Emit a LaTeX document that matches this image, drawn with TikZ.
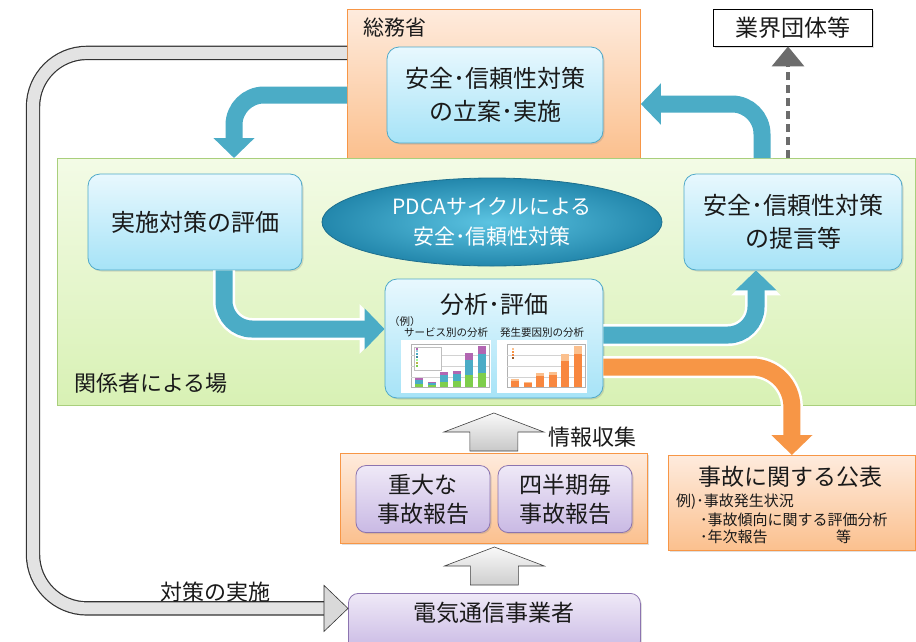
\documentclass[tikz,border=0pt]{standalone}
\usepackage{fontspec}
\setmainfont{Noto Sans CJK JP}
\usetikzlibrary{positioning,arrows.meta,shapes.geometric,shadows}

\definecolor{tealarrow}{HTML}{4BACC6}
\definecolor{orangearrow}{HTML}{F79646}
\definecolor{bluetop}{HTML}{E8F8FE}
\definecolor{bluebot}{HTML}{A6E3F7}
\definecolor{blueline}{HTML}{4FA9C9}
\definecolor{orangetop}{HTML}{FEEBDD}
\definecolor{orangebot}{HTML}{FBC08E}
\definecolor{orangeline}{HTML}{F79646}
\definecolor{purpletop}{HTML}{EFE9F7}
\definecolor{purplebot}{HTML}{C9B9E4}
\definecolor{purpleline}{HTML}{8C74B0}
\definecolor{greentop}{HTML}{F3FBE6}
\definecolor{greenbot}{HTML}{D8F1B4}
\definecolor{greenline}{HTML}{A9CF7C}
\definecolor{pdcain}{HTML}{5CC4E2}
\definecolor{pdcaout}{HTML}{2387AC}
\definecolor{pdcaline}{HTML}{1D6F8E}
\definecolor{txt}{HTML}{1A1A1A}

\tikzset{
	boxshadow/.style={drop shadow={opacity=0.25,shadow xshift=1.5pt,shadow yshift=-1.5pt}},
	bluebox/.style={draw=blueline, line width=0.8pt, rounded corners=12pt, top color=bluetop, bottom color=bluebot,
		align=center, inner sep=0pt, text=txt, font=\fontsize{24}{33}\selectfont, boxshadow},
	purplebox/.style={draw=purpleline, line width=0.8pt, rounded corners=10pt, top color=purpletop, bottom color=purplebot,
		align=center, inner sep=0pt, text=txt, font=\fontsize{23}{29}\selectfont, boxshadow},
	orangepanel/.style={draw=orangeline, line width=0.8pt, top color=orangetop, bottom color=orangebot, inner sep=0pt},
	greenpanel/.style={draw=greenline, line width=0.8pt, top color=greentop, bottom color=greenbot, inner sep=0pt},
	caption/.style={inner sep=0pt, text=txt, font=\fontsize{22}{26}\selectfont},
	listitem/.style={inner sep=0pt, text=txt, font=\fontsize{15}{17}\selectfont},
	smallnote/.style={inner sep=0pt, text=txt, font=\fontsize{10.5}{12}\selectfont},
	tealflow/.style={draw=tealarrow, line width=17pt, rounded corners=30pt, -{Triangle[width=40pt,length=20pt]},
		preaction={draw=white, line width=22pt, -{Triangle[width=48pt,length=25pt]}}},
	orangeflow/.style={tealflow, draw=orangearrow},
	grayblock/.style={draw=black!75, line width=0.6pt, top color=gray!5, bottom color=gray!45},
	grayrim/.style={draw=gray!22, line width=12pt, rounded corners=54pt, preaction={draw=black!80, line width=14.4pt}},
}

\newcommand{\upblock}[2]{
	\draw [grayblock] (#1) ++(-24,-#2) -- ++(0,-19) -- ++(-26,0) -- ++(50,-19) -- ++(50,19) -- ++(-26,0) -- ++(0,19) -- cycle
}

\begin{document}
\begin{tikzpicture}[x=1pt,y=-1pt]
	\useasboundingbox (0,0) rectangle (916,641);

	% panels
	\node [orangepanel, anchor=north west, minimum width=293pt, minimum height=149pt] (somu) at (347,9) {};
	\node [caption, anchor=west, font=\fontsize{21}{24}\selectfont] (somutitle) at (363,28) {総務省};
	\node [greenpanel, anchor=north west, minimum width=858pt, minimum height=247pt] (ba) at (57,158) {};
	\node [caption, anchor=west] (batitle) at (74,383) {関係者による場};
	\node [orangepanel, anchor=north west, minimum width=307pt, minimum height=90pt, boxshadow] (hokoku) at (340,453) {};
	\node [orangepanel, anchor=north west, minimum width=247pt, minimum height=95pt, boxshadow] (kohyo) at (668,455) {};

	% boxes
	\node [bluebox, minimum width=216pt, minimum height=96pt] (plan) at (495,95) {安全･信頼性対策\\の立案･実施};
	\node [bluebox, minimum width=214pt, minimum height=96pt] (hyouka) at (195,222) {実施対策の評価};
	\node [bluebox, minimum width=218pt, minimum height=96pt] (teigen) at (793,222) {安全･信頼性対策\\の提言等};
	\node [ellipse, draw=pdcaline, line width=0.8pt, inner color=pdcain, outer color=pdcaout, minimum width=340pt, minimum height=88pt,
		align=center, inner sep=0pt, text=white, font=\fontsize{21}{30}\selectfont] (pdca) at (492,222) {PDCAサイクルによる\\安全･信頼性対策};
	\node [bluebox, minimum width=218pt, minimum height=119pt] (bunseki) at (494,338.5) {};
	\node [caption, font=\fontsize{24}{26}\selectfont] (bunsekititle) at (494,304) {分析･評価};
	\node [smallnote, anchor=west] (rei) at (389,322) {（例）};
	\node [smallnote] (svc) at (446,333) {サービス別の分析};
	\node [smallnote] (cause) at (542,333) {発生要因別の分析};
	\node [draw=black, line width=0.8pt, fill=white, minimum width=159pt, minimum height=37pt, inner sep=0pt, text=txt,
		font=\fontsize{23}{24}\selectfont, boxshadow] (gyokai) at (792.5,27.5) {業界団体等};
	\node [purplebox, minimum width=134pt, minimum height=67pt] (juudai) at (423,499) {重大な\\事故報告};
	\node [purplebox, minimum width=134pt, minimum height=67pt] (shihanki) at (565,499) {四半期毎\\事故報告};
	\node [purplebox, anchor=north west, minimum width=292pt, minimum height=58pt] (jigyosha) at (348,593) {};
	\node [caption, font=\fontsize{23}{26}\selectfont] (jigyoshatitle) at (494,613) {電気通信事業者};

	% publication list
	\node [caption, font=\fontsize{23}{26}\selectfont] (kohyotitle) at (790,477) {事故に関する公表};
	\node [listitem, anchor=west] (ex1) at (676,502) {例)･事故発生状況};
	\node [listitem, below=18pt of ex1.west, anchor=west, xshift=24pt] (ex2) {･事故傾向に関する評価分析};
	\node [listitem, below=17pt of ex2.west, anchor=west] (ex3) {･年次報告};
	\node [listitem, right=68pt of ex3.east, anchor=west] (ex4) {等};

	% small charts
	\begin{scope}[shift={(401,340)}]
		\fill [white] (0,0) rectangle (90,53);
		\draw [gray!60, line width=0.4pt] (10,4) rectangle (88,47);
		\foreach \g in {15,26,37} \draw [gray!35, line width=0.3pt] (10,\g) -- (88,\g);
		\foreach \i/\h in {0/9,1/5,2/15,3/16,4/34,5/41} {
			\fill [green!45!olive!70] (14+\i*12.5,47) rectangle ++(8,-0.35*\h);
			\fill [tealarrow] (14+\i*12.5,47-0.35*\h) rectangle ++(8,-0.45*\h);
			\fill [violet!60] (14+\i*12.5,47-0.8*\h) rectangle ++(8,-0.2*\h);
		}
		\draw [gray!50, fill=white, line width=0.3pt] (13,7) rectangle (40,30);
		\foreach \k/\c in {0/violet!60,1/tealarrow!60,2/tealarrow,3/tealarrow!80!black,4/green!40,5/olive!60,6/green!45!olive!70}
			\fill [\c] (15,9.5+\k*2.9) rectangle ++(2,-2);
	\end{scope}
	\begin{scope}[shift={(497,340)}]
		\fill [white] (0,0) rectangle (90,53);
		\draw [gray!60, line width=0.4pt] (10,4) rectangle (88,47);
		\foreach \g in {15,26,37} \draw [gray!35, line width=0.3pt] (10,\g) -- (88,\g);
		\foreach \i/\h in {0/8,1/5,2/14,3/15,4/33,5/41} {
			\fill [orangearrow!90!red] (14+\i*12.5,47) rectangle ++(8,-0.8*\h);
			\fill [orangebot] (14+\i*12.5,47-0.8*\h) rectangle ++(8,-0.2*\h);
		}
		\foreach \k/\c in {0/orangebot,1/orangearrow,2/orangearrow!90!red,3/orangearrow!60!black}
			\fill [\c] (15,9.5+\k*3.2) rectangle ++(2,-2);
	\end{scope}

	% flow arrows
	\draw [tealflow] (somu.west |- plan.west) -| ([xshift=39pt]hyouka.north |- ba.north);
	\draw [tealflow, rounded corners=28pt] ([xshift=29pt]hyouka.south) |- ([yshift=9.5pt]bunseki.west);
	\draw [tealflow, rounded corners=28pt] ([yshift=3.5pt]bunseki.east) -| ([xshift=-37pt]teigen.south);
	\coordinate (backfoot) at (762,158);
	\draw [tealflow] (backfoot) |- (somu.east |- 0,104);
	\draw [orangeflow, rounded corners=40pt] ([yshift=-28.5pt]bunseki.east) -| (kohyo.north);

	% to the industry bodies
	\coordinate (dashfoot) at (788,158);
	\draw [gray!85!black, line width=3.5pt, dash pattern=on 8pt off 5pt, -{Triangle[width=32pt,length=20pt]}] (dashfoot) -- (dashfoot |- gyokai.south);

	% information gathering
	\upblock{hokoku.north}{2};
	\upblock{jigyosha.north}{8};
	\node [caption] (joho) [anchor=west] at (548,437) {情報収集};

	% measures back to the carriers
	\coordinate (rim) at (33,330);
	\draw [grayrim] ([yshift=31pt]somu.west) -| (rim) |- ([xshift=-24pt,yshift=14pt]jigyosha.west);
	\draw [draw=black!80, line width=0.6pt, fill=gray!30] ([xshift=-24pt,yshift=37pt]jigyosha.west) -- ([yshift=14pt]jigyosha.west)
		-- ([xshift=-24pt,yshift=-9pt]jigyosha.west) -- cycle;
	\node [caption] (taisaku) at (215,592) {対策の実施};

\end{tikzpicture}
\end{document}
